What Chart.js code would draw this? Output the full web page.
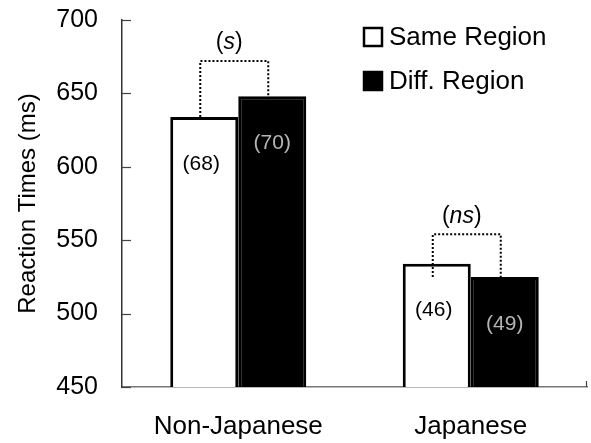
<!DOCTYPE html>
<html>
<head>
<meta charset="utf-8">
<script src="https://cdn.jsdelivr.net/npm/chart.js@4.4.1/dist/chart.umd.min.js"></script>
<style>
  html, body { margin: 0; padding: 0; background: #fff; }
  #wrap { width: 591px; height: 443px; }
</style>
</head>
<body>
<div id="wrap"><canvas id="chart"></canvas></div>
<script>
// datos
var groups = ['Non-Japanese', 'Japanese'];
var sameRegion = [634, 534];
var diffRegion = [648, 525];
var sameN = ['(68)', '(46)'];
var diffN = ['(70)', '(49)'];
var sigLabels = ['s', 'ns'];
var bracketTop = [672, 554];
var yTicks = [450, 500, 550, 600, 650, 700];

var FONT = "'Liberation Sans', Arial, sans-serif";

// dibuja ticks internos, corchetes, n y leyenda
var extras = {
  id: 'extras',
  afterDatasetsDraw: function(chart) {
    var ctx = chart.ctx;
    var y = chart.scales.y;
    var area = chart.chartArea;
    ctx.save();

    // ticks hacia dentro
    ctx.strokeStyle = '#444';
    ctx.lineWidth = 1.2;
    yTicks.forEach(function(v) {
      var py = Math.round(y.getPixelForValue(v)) + 0.5;
      ctx.beginPath();
      ctx.moveTo(area.left, py);
      ctx.lineTo(area.left + 9, py);
      ctx.stroke();
    });
    ctx.beginPath();
    ctx.moveTo(area.right - 0.5, area.bottom);
    ctx.lineTo(area.right - 0.5, area.bottom - 6);
    ctx.stroke();

    var m0 = chart.getDatasetMeta(0).data;
    var m1 = chart.getDatasetMeta(1).data;

    for (var i = 0; i < groups.length; i++) {
      var b0 = m0[i], b1 = m1[i];
      var xl = b0.x - 4, xr = b1.x - 4;
      var top = y.getPixelForValue(bracketTop[i]);
      var low = Math.max(b0.y, b1.y);
      ctx.strokeStyle = '#000';
      ctx.lineWidth = 2;
      ctx.setLineDash([2, 2]);
      ctx.beginPath();
      ctx.moveTo(xl, low);
      ctx.lineTo(xl, top);
      ctx.lineTo(xr, top);
      ctx.lineTo(xr, low);
      ctx.stroke();
      ctx.setLineDash([]);

      // (s) / (ns)
      ctx.fillStyle = '#000';
      ctx.textBaseline = 'middle';
      var cx = (xl + xr) / 2 - 5;
      ctx.font = '23px ' + FONT;
      var w1 = ctx.measureText('(').width, w2 = ctx.measureText(')').width;
      ctx.font = 'italic 23px ' + FONT;
      var ws = ctx.measureText(sigLabels[i]).width;
      var sx = cx - (w1 + ws + w2) / 2;
      ctx.textAlign = 'left';
      ctx.font = '23px ' + FONT;
      ctx.fillText('(', sx, top - 18);
      ctx.font = 'italic 23px ' + FONT;
      ctx.fillText(sigLabels[i], sx + w1, top - 18);
      ctx.font = '23px ' + FONT;
      ctx.fillText(')', sx + w1 + ws, top - 18);

      // n
      ctx.textAlign = 'center';
      ctx.font = '21px ' + FONT;
      ctx.fillStyle = '#000';
      ctx.fillText(sameN[i], b0.x - 3, b0.y + 47);
      ctx.fillStyle = '#b5b5b5';
      ctx.fillText(diffN[i], b1.x, b1.y + 47);
    }

    // leyenda
    var ds = chart.data.datasets;
    var rows = [37, 81];
    ctx.font = '26px ' + FONT;
    ctx.textAlign = 'left';
    ctx.textBaseline = 'middle';
    ds.forEach(function(d, k) {
      var ry = rows[k];
      ctx.fillStyle = d.backgroundColor;
      ctx.fillRect(364, ry - 9, 18, 18);
      ctx.strokeStyle = '#000';
      ctx.lineWidth = 2.5;
      ctx.strokeRect(364, ry - 9, 18, 18);
      ctx.fillStyle = '#000';
      ctx.fillText(d.label, 389, ry + 1);
    });

    ctx.restore();
  }
};

var ctx = document.getElementById('chart').getContext('2d');
window.bars = new Chart(ctx, {
  type: 'bar',
  data: {
    labels: groups,
    datasets: [{
      label: 'Same Region',
      data: sameRegion,
      backgroundColor: '#ffffff',
      borderColor: '#000',
      borderWidth: 3,
      borderSkipped: false
    }, {
      label: 'Diff. Region',
      data: diffRegion,
      backgroundColor: '#000000',
      borderColor: '#000',
      borderWidth: 3,
      borderSkipped: false
    }]
  },
  options: {
    responsive: true,
    maintainAspectRatio: false,
    animation: false,
    layout: { padding: { top: 20, right: 4, left: 0, bottom: 0 } },
    datasets: { bar: { categoryPercentage: 0.585, barPercentage: 1 } },
    plugins: {
      legend: { display: false },
      tooltip: { enabled: false }
    },
    scales: {
      x: {
        grid: { display: false, drawTicks: false },
        border: { color: '#777', width: 1.5 },
        ticks: { color: '#000', padding: 24, font: { family: FONT, size: 26 } },
        afterFit: function(s) { s.height = 56; }
      },
      y: {
        min: 450,
        max: 700,
        afterBuildTicks: function(s) { s.ticks = yTicks.map(function(v) { return { value: v }; }); },
        grid: { display: false, drawTicks: false },
        border: { color: '#333', width: 1.5 },
        ticks: { color: '#000', padding: 24, font: { family: FONT, size: 25 } },
        title: {
          display: true,
          text: 'Reaction Times (ms)',
          color: '#000',
          font: { family: FONT, size: 24 },
          padding: { top: 14, bottom: 0 }
        },
        afterFit: function(s) {
          s.width = 122;
          s.paddingTop = 0;
          s.paddingBottom = 0;
        }
      }
    }
  },
  plugins: [extras]
});
</script>
</body>
</html>
